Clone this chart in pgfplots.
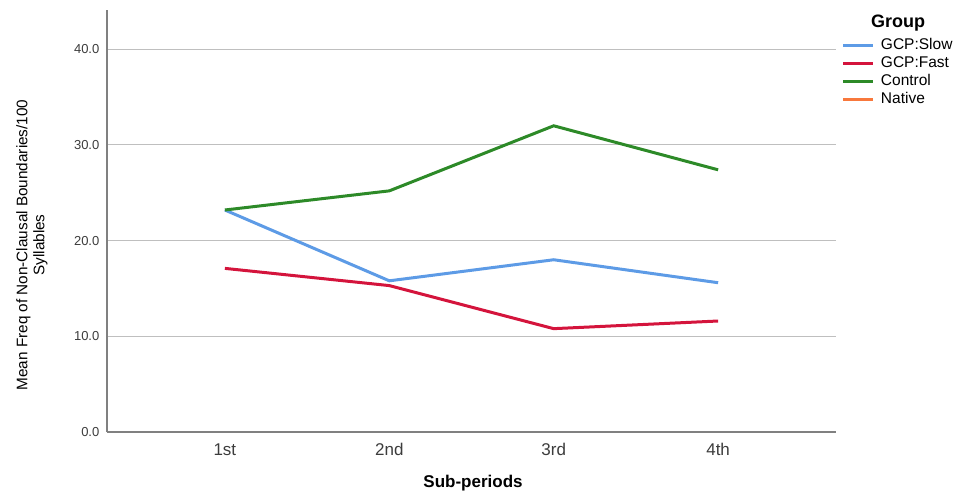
\documentclass[border=0pt]{standalone}
\usepackage{fontspec}
\setmainfont{Liberation Sans}
\usepackage{pgfplots}
\pgfplotsset{compat=1.18}
\definecolor{cslow}{RGB}{93,155,230}
\definecolor{cfast}{RGB}{212,20,60}
\definecolor{ccontrol}{RGB}{45,138,40}
\definecolor{cnative}{RGB}{248,120,60}
\definecolor{tickc}{RGB}{60,60,60}
\begin{document}
\begin{tikzpicture}[x=1pt,y=1pt]
\useasboundingbox (0,0) rectangle (960,496);
\begin{axis}[
  at={(107pt,64pt)}, anchor=south west,
  scale only axis, width=729pt, height=422pt,
  xmin=0.283, xmax=4.717, ymin=0, ymax=44.1,
  axis x line=bottom, axis y line=left,
  axis line style={-, draw=black!50, line width=1.3pt},
  xtick={1,2,3,4}, xticklabels={1st,2nd,3rd,4th},
  ytick={0,10,20,30,40},
  ymajorgrids, grid style={draw=black!25, line width=0.9pt},
  major tick style={draw=none},
  yticklabel style={/pgf/number format/fixed, /pgf/number format/fixed zerofill, /pgf/number format/precision=1, font=\fontsize{13}{13}\selectfont, text=tickc, xshift=-2pt},
  /pgf/number format/assume math mode=true,
  xticklabel style={font=\fontsize{17}{17}\selectfont, text=tickc, yshift=-6pt},
  legend style={at={(axis cs:4.752,41.1)}, anchor=north west, draw=none, fill=none, font=\fontsize{15.5}{15.5}\selectfont, row sep=4pt, inner sep=0pt, nodes={inner sep=0pt, text height=11pt, text depth=3pt}},
  legend cell align=left,
  legend image code/.code={\draw[#1, line width=3pt] (0pt,0pt) -- (30pt,0pt); \path (36pt,0pt);},
]
\addplot[cslow, line width=3pt] coordinates {(1,23.2) (2,15.8) (3,18.0) (4,15.6)};
\addlegendentry{GCP:Slow}
\addplot[cfast, line width=3pt] coordinates {(1,17.1) (2,15.3) (3,10.8) (4,11.6)};
\addlegendentry{GCP:Fast}
\addplot[ccontrol, line width=3pt] coordinates {(1,23.2) (2,25.2) (3,32.0) (4,27.4)};
\addlegendentry{Control}
\addlegendimage{cnative, line width=3pt}
\addlegendentry{Native}
\end{axis}
\node[font=\bfseries\fontsize{18}{18}\selectfont] at (898,473) {Group};
\node[font=\bfseries\fontsize{17}{17}\selectfont] at (473,13) {Sub-periods};
\node[rotate=90, align=center, font=\fontsize{15.3}{17}\selectfont] at (32,251) {Mean Freq of Non-Clausal Boundaries/100\\Syllables};
\end{tikzpicture}
\end{document}
